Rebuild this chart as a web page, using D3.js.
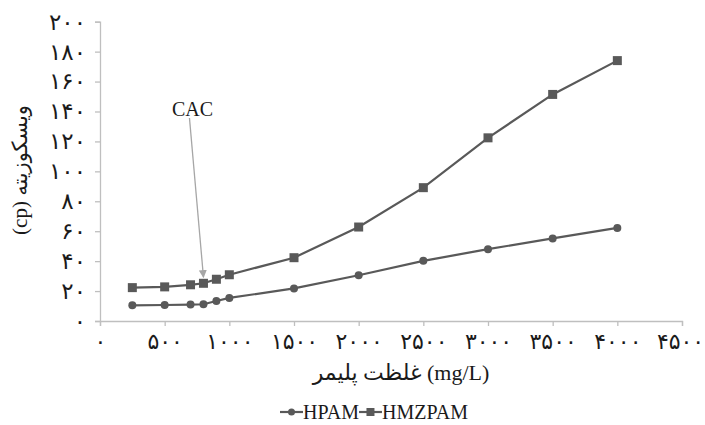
<!DOCTYPE html>
<html><head><meta charset="utf-8">
<script src="https://cdn.jsdelivr.net/npm/d3@7"></script>
<style>
body{margin:0;background:#fff;}
svg{display:block;}
</style></head>
<body>
<svg id="c" width="705" height="425"></svg>
<script>
const concentrations = [250, 500, 700, 800, 900, 1000, 1500, 2000, 2500, 3000, 3500, 4000];
const hpam   = [10.5, 10.7, 11, 11.2, 13.4, 15.4, 21.8, 30.6, 40.2, 48, 55.2, 62.2];
const hmzpam = [22.3, 22.8, 24.2, 25.2, 27.9, 30.9, 42.3, 62.8, 89.1, 122.4, 151.4, 174];
const xTicks = [0, 500, 1000, 1500, 2000, 2500, 3000, 3500, 4000, 4500];
const yTicks = [0, 20, 40, 60, 80, 100, 120, 140, 160, 180, 200];
const seriesNames = ["HPAM", "HMZPAM"];
const xTitle = "غلظت پلیمر (mg/L)";
const yTitle = "(cp) ویسکوزیته";
const cacLabel = "CAC";
const cacX = 800;

const fa = n => String(n).replace(/\d/g, d => "۰۱۲۳۴۵۶۷۸۹"[d]);

const svg = d3.select("#c");
const x = d3.scaleLinear().domain([0, 4500]).range([100, 682]);
const y = d3.scaleLinear().domain([0, 200]).range([321, 21.7]);
const axisColor = "#bfbfbf";
const lineColor = "#595959";
const serif = "'Liberation Serif','DejaVu Sans',serif";

// axes
const gx = svg.append("g").attr("transform", `translate(0,${y(0)})`)
  .call(d3.axisBottom(x).tickValues(xTicks).tickSize(5).tickPadding(7).tickFormat(fa));
const gy = svg.append("g").attr("transform", `translate(${x(0)},0)`)
  .call(d3.axisLeft(y).tickValues(yTicks).tickSize(5).tickPadding(9).tickFormat(fa));
[gx, gy].forEach(g => {
  g.select(".domain").attr("stroke", axisColor).attr("stroke-width", 1.3);
  g.selectAll(".tick line").attr("stroke", axisColor).attr("stroke-width", 1.3);
  g.selectAll(".tick text").attr("fill", "#1a1a1a").style("font-family", serif).style("font-size", "23px");
});
gx.selectAll(".tick text").style("font-size", "22px");
gx.selectAll(".tick").filter(d => d === xTicks[xTicks.length - 1]).select("text").attr("dx", -2);

// lines
const line = d3.line().x((d, i) => x(concentrations[i])).y(d => y(d));
const data = [hpam, hmzpam];
data.forEach((vals, si) => {
  svg.append("path").datum(vals).attr("d", line)
    .attr("fill", "none").attr("stroke", lineColor).attr("stroke-width", 2.2);
  const g = svg.append("g");
  if (si === 0) {
    g.selectAll("circle").data(vals).join("circle")
      .attr("cx", (d, i) => x(concentrations[i])).attr("cy", d => y(d))
      .attr("r", 4).attr("fill", lineColor);
  } else {
    g.selectAll("rect").data(vals).join("rect")
      .attr("x", (d, i) => x(concentrations[i]) - 4.5).attr("y", d => y(d) - 4.5)
      .attr("width", 9).attr("height", 9).attr("fill", lineColor);
  }
});

// CAC annotation
svg.append("defs").append("marker").attr("id", "ah")
  .attr("viewBox", "0 0 10 10").attr("refX", 9).attr("refY", 5)
  .attr("markerWidth", 8).attr("markerHeight", 8).attr("orient", "auto")
  .attr("markerUnits", "userSpaceOnUse")
  .append("path").attr("d", "M0,0L10,5L0,10Z").attr("fill", "#a6a6a6");
const cacIdx = concentrations.indexOf(cacX);
svg.append("line")
  .attr("x1", x(cacX) - 14).attr("y1", 118)
  .attr("x2", x(cacX)).attr("y2", y(hmzpam[cacIdx]) - 6)
  .attr("stroke", "#a6a6a6").attr("stroke-width", 1.3).attr("marker-end", "url(#ah)");
svg.append("text").attr("x", x(cacX) - 11).attr("y", 116).attr("text-anchor", "middle")
  .style("font-family", serif).style("font-size", "20px").attr("fill", "#1a1a1a").text(cacLabel);

// titles
svg.append("text").attr("x", 401).attr("y", 380).attr("text-anchor", "middle")
  .style("font-family", serif).style("font-size", "22px").attr("fill", "#1a1a1a").text(xTitle);
svg.append("text").attr("transform", "translate(27,170) rotate(-90)").attr("text-anchor", "middle")
  .style("font-family", serif).style("font-size", "21px").attr("fill", "#1a1a1a").text(yTitle);

// legend
const lg = svg.append("g").attr("transform", "translate(280,412)");
let lx = 0;
seriesNames.forEach((name, si) => {
  lg.append("line").attr("x1", lx).attr("x2", lx + 23).attr("y1", 0).attr("y2", 0)
    .attr("stroke", lineColor).attr("stroke-width", 2.2);
  if (si === 0) lg.append("circle").attr("cx", lx + 11.5).attr("cy", 0).attr("r", 3.5).attr("fill", lineColor);
  else lg.append("rect").attr("x", lx + 7.5).attr("y", -4).attr("width", 8).attr("height", 8).attr("fill", lineColor);
  const t = lg.append("text").attr("x", lx + 23).attr("y", 7)
    .style("font-family", serif).style("font-size", "20px").attr("fill", "#1a1a1a").text(name);
  lx += 23 + t.node().getComputedTextLength();
});
</script>
</body></html>
